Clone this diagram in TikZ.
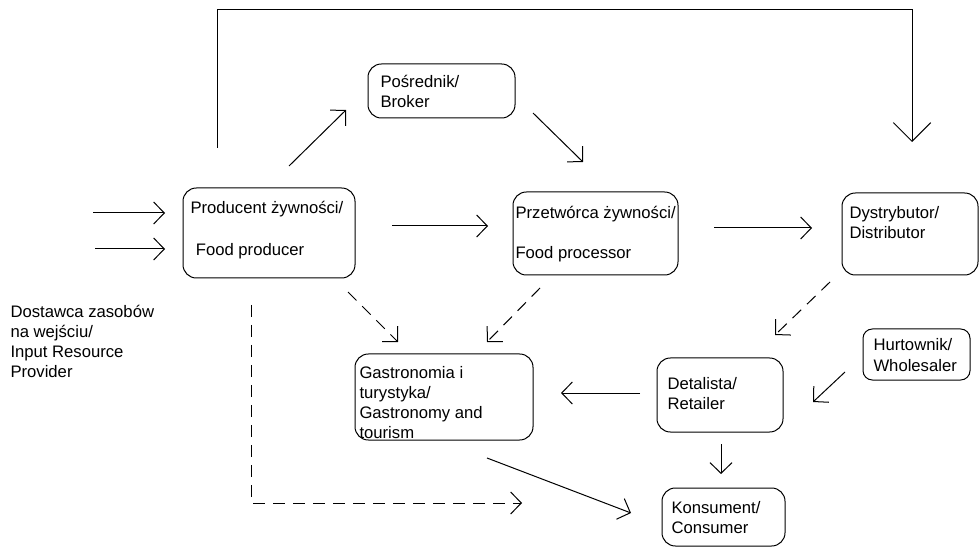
\documentclass[tikz,border=0pt]{standalone}
\usepackage{fontspec}
\setmainfont{Liberation Sans}
\usetikzlibrary{arrows.meta,fit}
\begin{document}
\begin{tikzpicture}[x=0.75pt,y=-0.75pt,
  line width=0.75pt,
  box/.style={draw, rounded corners=10pt, inner sep=0pt, line width=0.75pt},
  txt/.style={anchor=base west, align=left, inner sep=0pt, font=\fontsize{12.5}{15}\selectfont},
  arr/.style={-{Straight Barb[length=8pt,width=16.5pt]}},
  bigarr/.style={-{Straight Barb[length=14pt,width=28pt]}},
  dsh/.style={dash pattern=on 9pt off 6pt}]
\useasboundingbox (0,0) rectangle (980,548);
% boxes
\node[box, fit={(183,188) (355,278)}] (prod) {};
\node[box, fit={(368,64) (515,118)}] (broker) {};
\node[box, fit={(513,192) (678,275)}] (proc) {};
\node[box, fit={(842,193) (978,275)}] (dist) {};
\node[box, rounded corners=7pt, fit={(863,329) (970,380)}] (whole) {};
\node[box, fit={(657,358) (783,432)}] (retail) {};
\node[box, fit={(355,354) (533,440)}] (gastro) {};
\node[box, fit={(662,488) (785,546)}] (cons) {};
% texts (anchored at the baseline of their last line)
\node[txt] (prodt) at (190,256) {Producent żywności/\\[16.5pt]\hspace*{4pt}Food producer};
\node[txt] (brokert) at (380,108) {Pośrednik/\\Broker};
\node[txt] (proct) at (515,259) {Przetwórca żywności/\\[15pt]Food processor};
\node[txt] (distt) at (849,239) {Dystrybutor/\\Distributor};
\node[txt] (wholet) at (873,371) {Hurtownik/\\Wholesaler};
\node[txt] (retailt) at (667,409) {Detalista/\\Retailer};
\node[txt] (gastrot) at (359,438) {Gastronomia i\\turystyka/\\Gastronomy and\\tourism};
\node[txt] (const) at (671,533) {Konsument/\\Consumer};
\node[txt] (inputt) at (10,378) {Dostawca zasobów\\na wejściu/\\Input Resource\\Provider};
% connector end points
\coordinate (i1s) at (93,213);  \coordinate (i1e) at (165,213);
\coordinate (i2s) at (95,249);  \coordinate (i2e) at (165,249);
\coordinate (pbs) at (289,166); \coordinate (pbe) at (346,110);
\coordinate (lps) at (217,148); \coordinate (lpc) at (912,10); \coordinate (lpe) at (912,142);
\coordinate (brs) at (533,113); \coordinate (bre) at (583,162);
\coordinate (pps) at (392,226); \coordinate (ppe) at (488,226);
\coordinate (pds) at (714,228); \coordinate (pde) at (812,228);
\coordinate (pgs) at (348,292); \coordinate (pge) at (398,342);
\coordinate (qgs) at (540,288); \coordinate (qge) at (487,342);
\coordinate (drs) at (830,282); \coordinate (dre) at (775,335);
\coordinate (wrs) at (845,372); \coordinate (wre) at (813,402);
\coordinate (rgs) at (640,393); \coordinate (rge) at (561,393);
\coordinate (gcs) at (487,458); \coordinate (gce) at (631,513);
\coordinate (pcs) at (251,305); \coordinate (pce) at (522,503);
\coordinate (rcs) at (721,444); \coordinate (rce) at (721,474);
% connectors
\draw[arr] (i1s) -- (i1e);
\draw[arr] (i2s) -- (i2e);
\draw[arr] (pbs) -- (pbe);
\draw[bigarr] (lps) |- (lpc) -- (lpe);
\draw[arr] (brs) -- (bre);
\draw[arr] (pps) -- (ppe);
\draw[arr] (pds) -- (pde);
\draw[arr,dsh] (pgs) -- (pge);
\draw[arr,dsh] (qgs) -- (qge);
\draw[arr,dsh] (drs) -- (dre);
\draw[arr] (wrs) -- (wre);
\draw[arr] (rgs) -- (rge);
\draw[arr] (gcs) -- (gce);
\draw[arr,dsh] (pcs) |- (pce);
\draw[arr] (rcs) -- (rce);
\end{tikzpicture}
\end{document}
